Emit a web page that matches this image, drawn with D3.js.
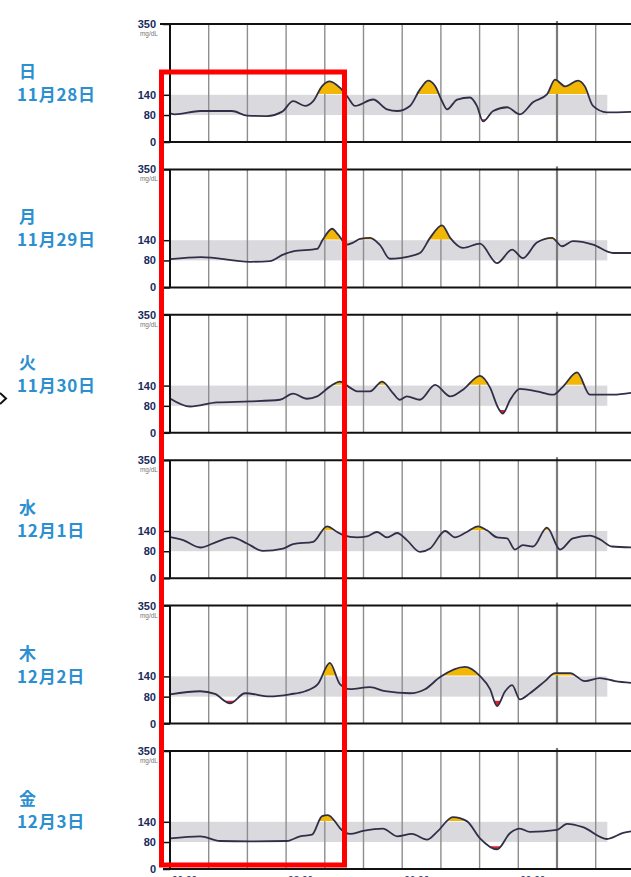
<!DOCTYPE html>
<html>
<head>
<meta charset="utf-8">
<script src="https://cdn.jsdelivr.net/npm/d3@7"></script>
<style>
  body { margin: 0; background: #fff; }
  svg { display: block; }
  .ylab { font-family: "Liberation Sans Narrow", "Liberation Sans", sans-serif; font-weight: bold; font-size: 11px; fill: #1a2b5c; }
  .unit { font-family: "Liberation Sans", sans-serif; font-size: 6.5px; fill: #777; }
  .day { font-family: "Noto Sans CJK JP", sans-serif; font-weight: bold; font-size: 17px; fill: #2b8fd0; letter-spacing: 0.8px; }
  .xlab { font-family: "Liberation Sans", sans-serif; font-size: 10px; fill: #1a2b5c; }
</style>
</head>
<body>
<div id="chart"></div>
<script>
// day labels
const weekdays = ["日", "月", "火", "水", "木", "金"];
const dates = ["11月28日", "11月29日", "11月30日", "12月1日", "12月2日", "12月3日"];

const yTicks = [0, 80, 140, 350];
const targetRange = [80, 140];
const lowLimit = 70;
const timeTicks = [0, 3, 6, 9, 12];
const timeLabels = ["00:00", "03:00", "06:00", "09:00", "12:00"];

// glucose readings, [hour, mg/dL]
const day1 = [[0,85],[0.13,82],[0.78,92],[1.6,92],[2.0,78],[2.5,77],[2.9,90],[3.18,121],[3.49,107],[3.7,121],[3.93,166],[4.13,180],[4.39,161],[4.6,132],[4.78,107],[5.25,126],[5.61,97],[5.87,92],[6.2,107],[6.46,156],[6.67,182],[6.85,166],[7.03,121],[7.16,97],[7.42,126],[7.75,132],[7.93,107],[8.09,61],[8.35,92],[8.71,103],[9.04,82],[9.38,118],[9.74,141],[9.95,185],[10.21,165],[10.54,182],[10.72,165],[10.93,107],[11.29,88],[12,90]];
const day2 = [[0,84],[0.8,90],[2.07,76],[2.58,78],[2.92,97],[3.18,107],[3.8,114],[3.95,142],[4.19,174],[4.34,157],[4.57,127],[4.73,133],[4.91,144],[5.17,147],[5.43,125],[5.68,85],[5.94,87],[6.46,102],[6.72,147],[7.03,184],[7.24,147],[7.57,117],[8.01,130],[8.45,72],[8.84,112],[9.12,87],[9.48,133],[9.87,147],[10.13,122],[10.41,137],[10.93,127],[11.45,102],[12,102]];
const day3 = [[0,102],[0.52,78],[1.21,90],[2.07,93],[2.84,98],[3.18,116],[3.54,101],[3.8,108],[4.13,137],[4.39,152],[4.65,134],[4.83,123],[5.17,123],[5.48,152],[5.76,118],[5.94,98],[6.12,108],[6.46,98],[6.85,142],[7.24,108],[7.57,128],[8.01,169],[8.27,134],[8.48,74],[8.6,57],[8.79,98],[9.04,130],[9.48,123],[9.9,113],[10.13,134],[10.52,179],[10.85,113],[11.45,113],[12,120]];
const day4 = [[0,122],[0.34,113],[0.78,91],[1.21,108],[1.6,121],[1.99,103],[2.4,81],[2.92,88],[3.18,101],[3.7,108],[4.06,154],[4.32,137],[4.47,128],[4.83,121],[5.09,124],[5.35,137],[5.61,121],[5.87,134],[6.12,113],[6.46,78],[6.72,88],[7.11,140],[7.36,121],[7.67,137],[7.96,154],[8.19,142],[8.45,121],[8.71,118],[8.91,85],[9.12,98],[9.38,94],[9.74,150],[10.08,85],[10.41,118],[10.85,126],[11.11,115],[11.42,94],[12,91]];
const day5 = [[0,87],[0.78,96],[1.16,88],[1.55,60],[1.94,90],[2.58,81],[3.1,87],[3.49,96],[3.82,117],[4.13,180],[4.39,117],[4.65,102],[5.17,108],[5.56,96],[6.2,90],[6.59,102],[6.98,138],[7.62,168],[8.01,141],[8.27,102],[8.45,52],[8.66,96],[8.84,114],[9.04,72],[9.3,90],[9.69,126],[9.95,150],[10.34,150],[10.72,126],[11.11,135],[11.5,126],[12,120]];
const day6 = [[0,91],[0.78,97],[1.29,83],[2.07,82],[3.02,83],[3.36,97],[3.67,102],[3.93,157],[4.08,160],[4.32,132],[4.39,121],[4.65,104],[4.99,113],[5.5,120],[5.87,97],[6.25,104],[6.64,87],[6.9,110],[7.31,154],[7.67,142],[8.01,91],[8.45,58],[8.79,107],[9.04,120],[9.3,110],[10.0,116],[10.26,134],[10.67,124],[11.29,89],[11.71,107],[12,113]];

const days = [day1, day2, day3, day4, day5, day6];

const width = 631, height = 877;
const panelTop = 24, panelStep = 145.4, panelHeight = 118;
const plotLeft = 170, hourWidth = 38.7;
const bandEnd = 11.3;

const x = d3.scaleLinear()
    .domain([0, 12])
    .range([plotLeft, plotLeft + 12 * hourWidth]);

const svg = d3.select("#chart").append("svg")
    .attr("width", width)
    .attr("height", height);

const defs = svg.append("defs");

days.forEach((data, i) => {
  var top = panelTop + i * panelStep,
      bottom = top + panelHeight;

  var y = d3.scaleLinear()
      .domain([0, 350])
      .range([bottom, top]);

  var g = svg.append("g");

  // target band
  g.append("rect")
      .attr("x", x(0))
      .attr("width", x(bandEnd) - x(0))
      .attr("y", y(targetRange[1]))
      .attr("height", y(targetRange[0]) - y(targetRange[1]))
      .attr("fill", "#dadade");

  // hour lines
  g.selectAll(".grid")
      .data(d3.range(1, 12))
    .enter().append("line")
      .attr("x1", d => x(d))
      .attr("x2", d => x(d))
      .attr("y1", d => d == 10 ? top - 3 : top)
      .attr("y2", bottom)
      .attr("stroke", d => d == 10 ? "#7a7a7a" : "#8e8e8e")
      .attr("stroke-width", d => d == 10 ? 2.2 : 1.4);

  // clip a hair inside the limit so no sliver shows along it
  defs.append("clipPath")
      .attr("id", `hi-${i}`)
    .append("rect")
      .attr("x", 0).attr("y", top)
      .attr("width", width).attr("height", y(targetRange[1]) - top - 0.8);

  defs.append("clipPath")
      .attr("id", `lo-${i}`)
    .append("rect")
      .attr("x", 0).attr("y", y(lowLimit) + 0.8)
      .attr("width", width).attr("height", bottom - y(lowLimit));

  var area = base => d3.area()
      .x(d => x(d[0]))
      .y0(y(base))
      .y1(d => y(d[1]))
      .curve(d3.curveMonotoneX);

  g.append("path")
      .datum(data)
      .attr("d", area(targetRange[1]))
      .attr("fill", "#f2b705")
      .attr("clip-path", `url(#hi-${i})`);

  g.append("path")
      .datum(data)
      .attr("d", area(lowLimit))
      .attr("fill", "#e0202a")
      .attr("clip-path", `url(#lo-${i})`);

  g.append("path")
      .datum(data)
      .attr("d", d3.line().x(d => x(d[0])).y(d => y(d[1])).curve(d3.curveMonotoneX))
      .attr("fill", "none")
      .attr("stroke", "#2f2f48")
      .attr("stroke-width", 1.8);

  // frame
  g.append("line")
      .attr("x1", 160).attr("x2", width)
      .attr("y1", top).attr("y2", top)
      .attr("stroke", "#111").attr("stroke-width", 2);
  g.append("line")
      .attr("x1", 163).attr("x2", width)
      .attr("y1", bottom).attr("y2", bottom)
      .attr("stroke", "#111").attr("stroke-width", 2);
  g.append("line")
      .attr("x1", plotLeft).attr("x2", plotLeft)
      .attr("y1", top).attr("y2", bottom)
      .attr("stroke", "#111").attr("stroke-width", 2);

  var yAxis = g.append("g")
      .attr("transform", `translate(${plotLeft},0)`)
      .call(d3.axisLeft(y).tickValues(yTicks).tickSize(7).tickPadding(7));
  yAxis.select(".domain").remove();
  yAxis.selectAll(".tick line").attr("stroke", "#111").attr("stroke-width", 1.5);
  yAxis.selectAll(".tick text").attr("class", "ylab").attr("fill", null);
  yAxis.attr("font-size", null).attr("font-family", null);

  g.append("text")
      .attr("class", "unit")
      .attr("x", 158)
      .attr("y", top + 12)
      .attr("text-anchor", "end")
      .text("mg/dL");

  g.append("text")
      .attr("class", "day")
      .attr("x", 19)
      .attr("y", top + 54)
      .text(weekdays[i]);
  g.append("text")
      .attr("class", "day")
      .attr("x", 17)
      .attr("y", top + 77)
      .text(dates[i]);

  if (i == days.length - 1) {
    g.selectAll(".xlab")
        .data(timeTicks)
      .enter().append("text")
        .attr("class", "xlab")
        .attr("x", d => x(d) + 2)
        .attr("y", bottom + 15)
        .text((d, k) => timeLabels[k]);
  }
});

// small marker at left edge
svg.append("path")
    .attr("d", "M0,393 L6,398.5 L0,404")
    .attr("fill", "none")
    .attr("stroke", "#111")
    .attr("stroke-width", 2);

// highlight box
svg.append("rect")
    .attr("x", 161.5)
    .attr("y", 72)
    .attr("width", 183)
    .attr("height", 793)
    .attr("fill", "none")
    .attr("stroke", "#ff0000")
    .attr("stroke-width", 5);
</script>
</body>
</html>
